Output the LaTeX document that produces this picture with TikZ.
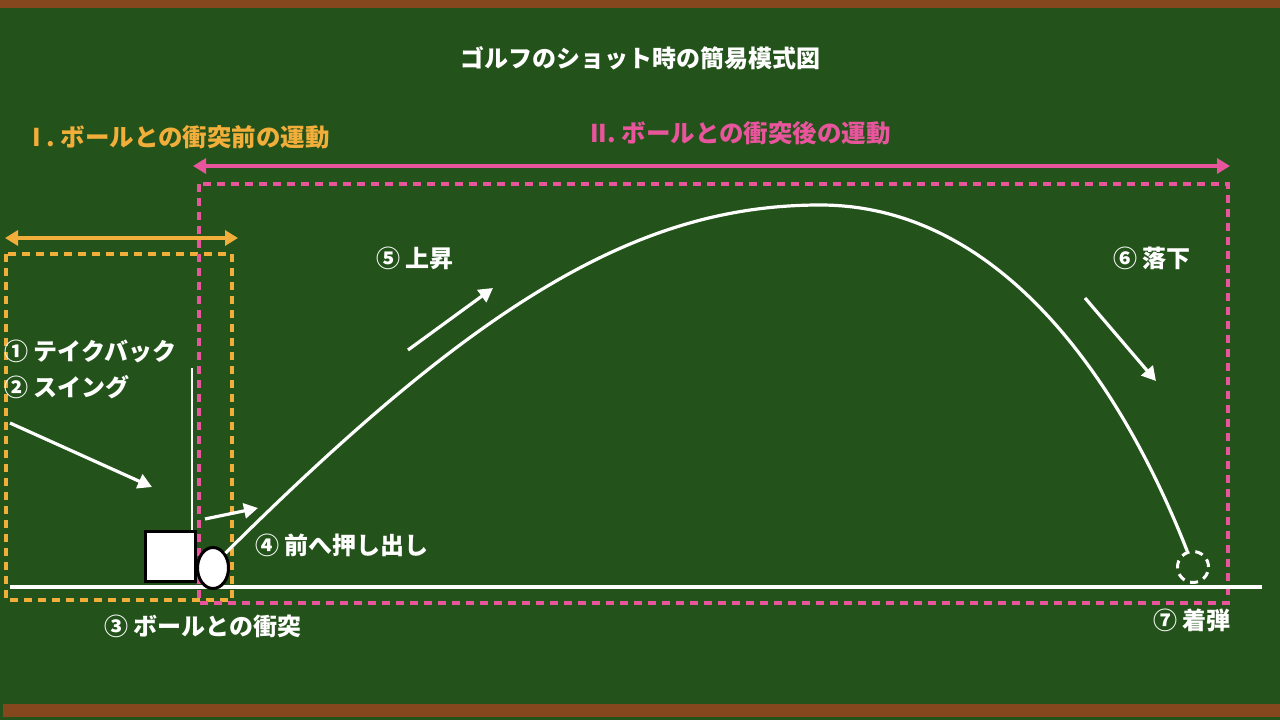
\documentclass[tikz,border=0pt]{standalone}
\usepackage{fontspec}
\setmainfont{Noto Sans CJK JP}
\usetikzlibrary{arrows.meta,shapes.geometric}
\definecolor{board}{HTML}{23521A}
\definecolor{frame}{HTML}{84471E}
\definecolor{phaseone}{HTML}{F2AE3A}
\definecolor{phasetwo}{HTML}{E9559C}
\begin{document}
\begin{tikzpicture}
[x=1pt,y=-1pt,
  labeldecorate/.style={anchor=west,inner sep=0pt,text=white,font=\fontsize{24}{28}\selectfont\bfseries},%
  headdecorate/.style={anchor=west,inner sep=0pt,font=\fontsize{24.5}{28}\selectfont\bfseries},%
  arrowdecorate/.style={white,line width=3.2pt,-{Triangle[length=14pt,width=15pt]}},%
  spandecorate/.style={line width=3.2pt,{Triangle[length=13pt,width=15pt]}-{Triangle[length=13pt,width=15pt]}},%
  boxdecorate/.style={line width=3.2pt,dash pattern=on 8pt off 6pt}]
% board and frame
\useasboundingbox (0,0) rectangle (1280,720);
\fill[board] (0,0) rectangle (1280,720);
\fill[frame] (0,0) rectangle (1280,8);
\fill[frame] (3,704) rectangle (1280,717);
% titles
\node (title) at (640,58) [labeldecorate,anchor=center] {ゴルフのショット時の簡易模式図};
\node (headone) at (32,137) [headdecorate,text=phaseone] {I . ボールとの衝突前の運動};
\node (headtwo) at (590,133) [headdecorate,text=phasetwo] {II. ボールとの衝突後の運動};
% spans
\coordinate (oneleft) at (5,238);
\coordinate (oneright) at (238,238);
\coordinate (twoleft) at (193,166);
\coordinate (tworight) at (1230,166);
\draw[spandecorate,phaseone] (oneleft) -- (oneright);
\draw[spandecorate,phasetwo] (twoleft) -- (tworight);
% dashed boxes
\draw[boxdecorate,phaseone] (6,254) rectangle (232,600);
\draw[boxdecorate,phasetwo] (199,184) rectangle (1228,603);
% ground
\coordinate (groundleft) at (10,587);
\coordinate (groundright) at (1262,587);
\draw[white,line width=3.2pt] (groundleft) -- (groundright);
% club and ball
\coordinate (shaft) at (192,368);
\node (club) at (170,556) [draw=black,fill=white,line width=3pt,minimum width=50pt,minimum height=50pt,inner sep=0pt] {};
\draw[white,line width=2.8pt] (shaft) -- (shaft |- club.north);
\node (ball) at (213,568) [ellipse,draw=black,fill=white,line width=3pt,minimum width=31pt,minimum height=41pt,inner sep=0pt] {};
\node (land) at (1193,567) [circle,draw=white,line width=3pt,dash pattern=on 8pt off 6pt,minimum size=31pt,inner sep=0pt] {};
% trajectory
\draw[white,line width=3.2pt] (ball.50) .. controls (480,300) and (640,205) .. (820,205)
  .. controls (1000,205) and (1120,380) .. (land.110);
% arrows
\coordinate (swingfrom) at (10,423);
\coordinate (swingto) at (152,487);
\coordinate (pushfrom) at (205,519);
\coordinate (pushto) at (258,508);
\coordinate (risefrom) at (408,350);
\coordinate (riseto) at (493,288);
\coordinate (fallfrom) at (1085,298);
\coordinate (fallto) at (1156,381);
\draw[arrowdecorate] (swingfrom) -- (swingto);
\draw[arrowdecorate] (pushfrom) -- (pushto);
\draw[arrowdecorate] (risefrom) -- (riseto);
\draw[arrowdecorate] (fallfrom) -- (fallto);
% labels
\node (takeback) at (4,351) [labeldecorate] {① テイクバック};
\node (swing) at (4,387) [labeldecorate] {② スイング};
\node (impact) at (104,626) [labeldecorate] {③ ボールとの衝突};
\node (push) at (255,545) [labeldecorate] {④ 前へ押し出し};
\node (rise) at (376,258) [labeldecorate] {⑤ 上昇};
\node (fall) at (1113,258) [labeldecorate] {⑥ 落下};
\node (landing) at (1153,620) [labeldecorate] {⑦ 着弾};
\end{tikzpicture}
\end{document}
